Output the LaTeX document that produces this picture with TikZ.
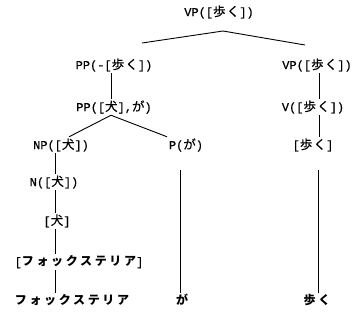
\documentclass[tikz,border=0pt]{standalone}
\usepackage{fontspec}
\setmonofont{Liberation Mono}[FakeBold=0.5]
\newfontfamily\cjkfont{Noto Sans CJK JP}[LetterSpace=10,FakeBold=0.4]
\newfontfamily\cjkwide{Noto Sans CJK JP}[LetterSpace=22]
\newcommand\jtext[1]{{\cjkfont\fontsize{12.5}{14}\selectfont #1}}
\newcommand\jwide[1]{{\cjkwide\bfseries\fontsize{12}{14}\selectfont #1}}
\newcommand\jbold[1]{{\cjkwide\bfseries\fontsize{12}{14}\selectfont #1}}
\begin{document}
\begin{tikzpicture}[x=1pt,y=-1pt,
  lab/.style={inner xsep=0pt,inner ysep=1.5pt,font=\ttfamily\fontsize{12}{14}\selectfont},
  edge/.style={line width=0.9pt,black}]
\useasboundingbox (0,0) rectangle (360,327);
% nodes
\node[lab] (vp)    at (219,12)  {VP([\jtext{歩く}])};
\node[lab] (ppa)   at (114,65)  {PP(-[\jtext{歩く}])};
\node[lab] (vpr)   at (317,65)  {VP([\jtext{歩く}])};
\node[lab] (ppb)   at (114,107) {PP([\jtext{犬}],\jtext{が})};
\node[lab] (v)     at (313,107) {V([\jtext{歩く}])};
\node[lab] (np)    at (61,145)  {NP([\jtext{犬}])};
\node[lab] (p)     at (186,145) {P(\jtext{が})};
\node[lab] (ak)    at (313,145) {[\jtext{歩く}]};
\node[lab] (n)     at (54,182)  {N([\jtext{犬}])};
\node[lab] (inu)   at (57,221)  {[\jtext{犬}]};
\node[lab] (fbr)   at (79,262)  {[\jwide{フォックステリア}]};
\node[lab] (fox)   at (72,300)  {\jwide{フォックステリア}};
\node[lab] (ga)    at (182,300) {\jbold{が}};
\node[lab] (aruku) at (317,300) {\jbold{歩く}};
% column coordinates
\coordinate (apex) at (223,31);
\coordinate (lend) at (142,43);
\coordinate (rend) at (305,45);
\coordinate (cA) at (111,0);
\coordinate (cB) at (319,0);
\coordinate (cC) at (69,0);
\coordinate (cD) at (167,0);
\coordinate (cE) at (55,0);
\coordinate (cF) at (180,0);
\coordinate (cG) at (318,0);
% connectors
\draw[edge] (lend) -- (apex) -- (rend);
\draw[edge] (ppa.south -| cA) -- (ppb.north -| cA);
\draw[edge] (vpr.south -| cB) -- (v.north -| cB);
\draw[edge] (v.south -| cB) -- (ak.north -| cB);
\draw[edge] (ppb.south -| cA) -- (np.north -| cC);
\draw[edge] (ppb.south -| cA) -- (p.north -| cD);
\draw[edge] (np.south -| cE) -- (n.north -| cE);
\draw[edge] (n.south -| cE) -- (inu.north -| cE);
\draw[edge] (inu.south -| cE) -- (fbr.north -| cE);
\draw[edge] (fbr.south -| cE) -- (fox.north -| cE);
\draw[edge,shorten <=17pt] (p.south -| cF) -- (ga.north -| cF);
\draw[edge,shorten <=17pt] (ak.south -| cG) -- (aruku.north -| cG);
\end{tikzpicture}
\end{document}
